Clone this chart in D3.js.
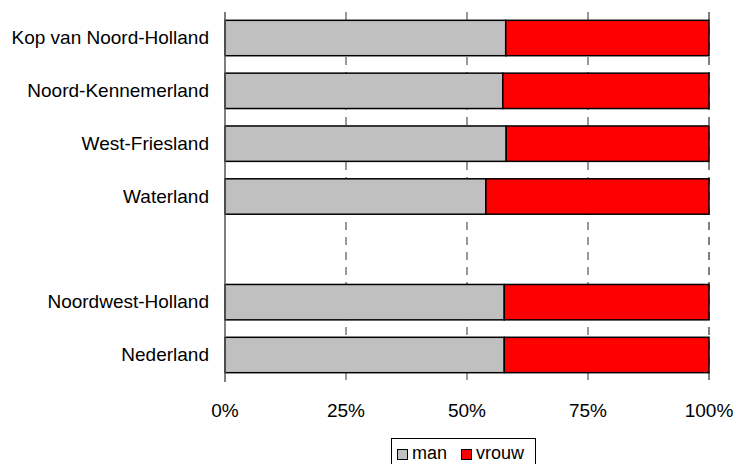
<!DOCTYPE html>
<html><head><meta charset="utf-8">
<script src="https://cdn.jsdelivr.net/npm/d3@7"></script>
<style>body{margin:0;background:#fff}svg{display:block}text{font-family:Arial,"Liberation Sans",sans-serif}</style>
</head><body>
<svg id="c" width="736" height="464"></svg>
<script>
const categories = ["Kop van Noord-Holland","Noord-Kennemerland","West-Friesland","Waterland","","Noordwest-Holland","Nederland"];
const man   = [0.580, 0.574, 0.581, 0.539, null, 0.577, 0.577];
const vrouw = [0.420, 0.426, 0.419, 0.461, null, 0.423, 0.423];
const ticks = [0, 0.25, 0.5, 0.75, 1];
const seriesNames = ["man","vrouw"];
const colors = ["#c0c0c0","#ff0000"];

const svg = d3.select("#c");
const fs = 19;
const x = d3.scaleLinear().domain([0,1]).range([225,709]);
const y = d3.scaleBand().domain(d3.range(categories.length)).range([11.6,381.4]).paddingInner(0.33).paddingOuter(0.165);

// gridlines
svg.append("g").selectAll("line").data(ticks.slice(1)).join("line")
  .attr("x1",d=>x(d)).attr("x2",d=>x(d)).attr("y1",12).attr("y2",381)
  .attr("stroke",d=>d===1?"#000":"#333").attr("stroke-width",1).attr("stroke-dasharray","8,7");

const rows = categories.map((c,i)=>({c,i,m:man[i],v:vrouw[i]})).filter(d=>d.m!=null);
const g = svg.append("g");
rows.forEach(d=>{
  g.append("rect").attr("x",x(0)).attr("y",y(d.i)).attr("width",x(d.m)-x(0)).attr("height",y.bandwidth())
    .attr("fill",colors[0]).attr("stroke","#000").attr("stroke-width",1.5);
  g.append("rect").attr("x",x(d.m)).attr("y",y(d.i)).attr("width",x(d.m+d.v)-x(d.m)).attr("height",y.bandwidth())
    .attr("fill",colors[1]).attr("stroke","#000").attr("stroke-width",1.5);
});

// axis line
svg.append("line").attr("x1",x(0)).attr("x2",x(0)).attr("y1",12).attr("y2",382).attr("stroke","#555").attr("stroke-width",1.5);

// category labels
svg.append("g").selectAll("text").data(rows).join("text")
  .attr("x",209).attr("y",d=>y(d.i)+y.bandwidth()/2).attr("dy","0.33em")
  .attr("text-anchor","end").attr("font-size",fs).attr("fill","#000").text(d=>d.c);

// tick labels
svg.append("g").selectAll("text").data(ticks).join("text")
  .attr("x",d=>x(d)).attr("y",417).attr("text-anchor","middle").attr("font-size",fs)
  .text(d=>d3.format(".0%")(d));

// legend
const lg = svg.append("g");
lg.append("rect").attr("x",391.5).attr("y",438.5).attr("width",144).attr("height",40).attr("fill","#fff").attr("stroke","#000").attr("stroke-width",1);
const lx = [397, 461];
seriesNames.forEach((s,i)=>{
  lg.append("rect").attr("x",lx[i]+0.5).attr("y",449.5).attr("width",10).attr("height",10).attr("fill",colors[i]).attr("stroke","#000").attr("stroke-width",1);
  lg.append("text").attr("x",lx[i]+15).attr("y",459).attr("font-size",18).text(s);
});
</script>
</body></html>
